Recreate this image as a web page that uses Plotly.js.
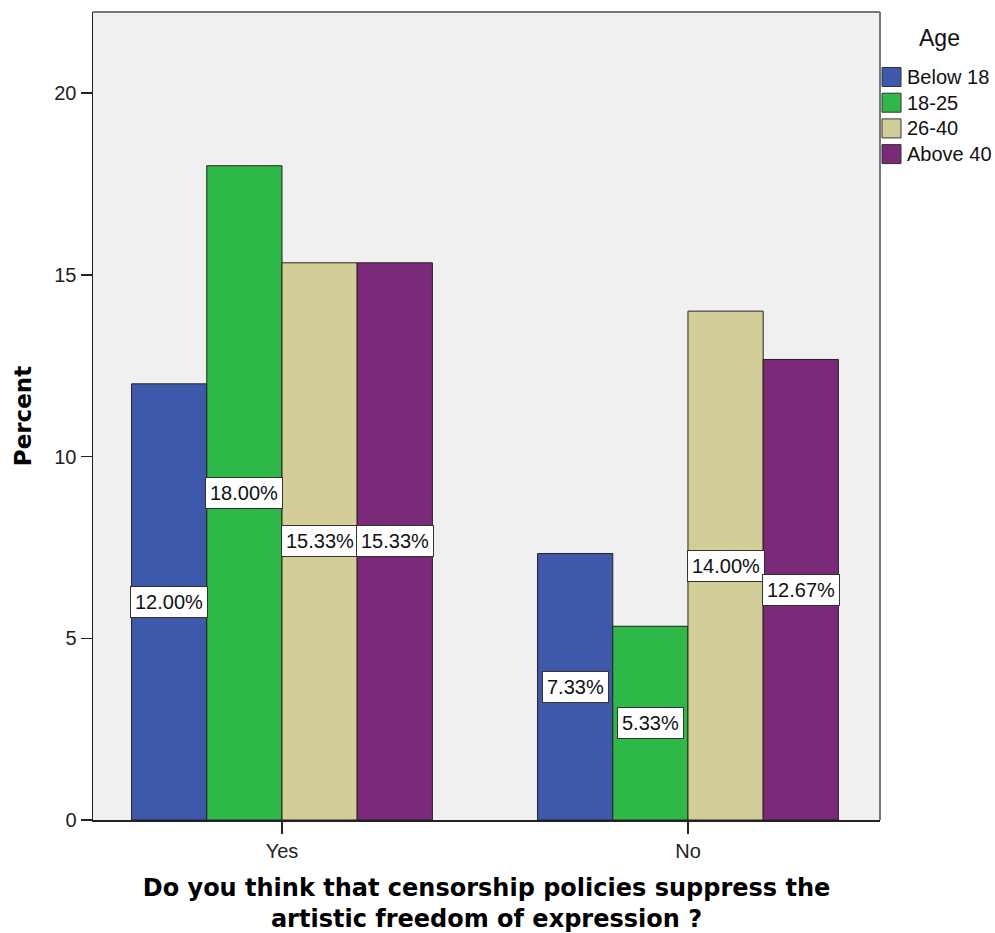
<!DOCTYPE html>
<html>
<head>
<meta charset="utf-8">
<script src="https://cdn.plot.ly/plotly-3.0.1.min.js"></script>
<style>
html,body{margin:0;padding:0;background:#fff;}
#chart{width:995px;height:933px;}
</style>
</head>
<body>
<div id="chart"></div>
<script>
const categories = ['Yes', 'No'];
const seriesNames = ['Below 18', '18-25', '26-40', 'Above 40'];
const below18 = [12.00, 7.33];
const age18to25 = [18.00, 5.33];
const age26to40 = [15.33, 14.00];
const above40 = [15.33, 12.67];
const colors = ['#3e58ac', '#2eb848', '#d3ce97', '#7b2979'];
const legendTitle = 'Age';

const seriesValues = [below18, age18to25, age26to40, above40];
const bargap = 0.259;
const barW = (1 - bargap) / seriesValues.length;

const W = 995, H = 933;
const M = {l: 93, r: 115, t: 12, b: 113};
const plotW = W - M.l - M.r, plotH = H - M.t - M.b;
const px = x => (x - M.l) / plotW;
const py = y => (H - M.b - y) / plotH;

const FONT = 'Liberation Sans, Arial, sans-serif';
const BOLD = 'DejaVu Sans, Verdana, sans-serif';

const traces = seriesValues.map((vals, i) => ({
  type: 'bar',
  name: seriesNames[i],
  x: categories,
  y: vals,
  marker: {color: colors[i], line: {color: '#222222', width: 1}},
  hoverinfo: 'none',
  showlegend: false
}));

const annotations = [];
seriesValues.forEach((vals, i) => {
  vals.forEach((v, j) => {
    annotations.push({
      x: j + (i - (seriesValues.length - 1) / 2) * barW,
      y: v / 2,
      xref: 'x', yref: 'y',
      text: v.toFixed(2) + '%',
      showarrow: false,
      bgcolor: '#ffffff',
      bordercolor: '#333333',
      borderwidth: 1,
      borderpad: 4,
      font: {family: FONT, size: 20, color: '#111'}
    });
  });
});

// custom legend (layout only)
const shapes = [
  {type: 'line', xref: 'paper', yref: 'paper', x0: 0, x1: 1, y0: 1, y1: 1, line: {color: '#777', width: 2}},
  {type: 'line', xref: 'paper', yref: 'paper', x0: 1, x1: 1, y0: 0, y1: 1, line: {color: '#777', width: 2}}
];
annotations.push({
  xref: 'paper', yref: 'paper', x: px(939), y: py(38),
  xanchor: 'center', yanchor: 'middle', showarrow: false,
  text: legendTitle, font: {family: FONT, size: 23, color: '#111'}
});
seriesNames.forEach((name, i) => {
  const cy = 77 + i * 25.7;
  shapes.push({
    type: 'rect', xref: 'paper', yref: 'paper',
    x0: px(882), x1: px(901), y0: py(cy - 9.5), y1: py(cy + 9.5),
    fillcolor: colors[i], line: {color: '#333', width: 1}
  });
  annotations.push({
    xref: 'paper', yref: 'paper', x: px(905), y: py(cy),
    xanchor: 'left', yanchor: 'middle', showarrow: false,
    text: name, font: {family: FONT, size: 20, color: '#111'}
  });
});

const layout = {
  width: W, height: H,
  margin: M,
  paper_bgcolor: '#ffffff',
  plot_bgcolor: '#f0f0f0',
  barmode: 'group',
  bargap: bargap,
  bargroupgap: 0,
  font: {family: FONT, color: '#222'},
  showlegend: false,
  xaxis: {
    type: 'category',
    range: [-0.4655, 1.473],
    showline: true, linecolor: '#222', linewidth: 1.5,
    ticks: 'outside', ticklen: 12, tickcolor: '#222', tickwidth: 1.5,
    tickfont: {size: 20, color: '#222', family: FONT},
    showgrid: false, zeroline: false,
    title: {
      text: '<b>Do you think that censorship policies suppress the<br>artistic freedom of expression ?</b>',
      font: {size: 24, color: '#000', family: BOLD},
      standoff: 19
    }
  },
  yaxis: {
    range: [0, 22.23],
    tickvals: [0, 5, 10, 15, 20],
    showline: true, linecolor: '#222', linewidth: 1.5,
    ticks: 'outside', ticklen: 11, tickcolor: '#222', tickwidth: 1.5,
    tickfont: {size: 20, color: '#222', family: FONT},
    showgrid: false, zeroline: false,
    title: {
      text: '<b>Percent</b>',
      font: {size: 23, color: '#000', family: BOLD},
      standoff: 16
    }
  },
  shapes: shapes,
  annotations: annotations
};

Plotly.newPlot('chart', traces, layout, {displayModeBar: false, staticPlot: true});
</script>
</body>
</html>
